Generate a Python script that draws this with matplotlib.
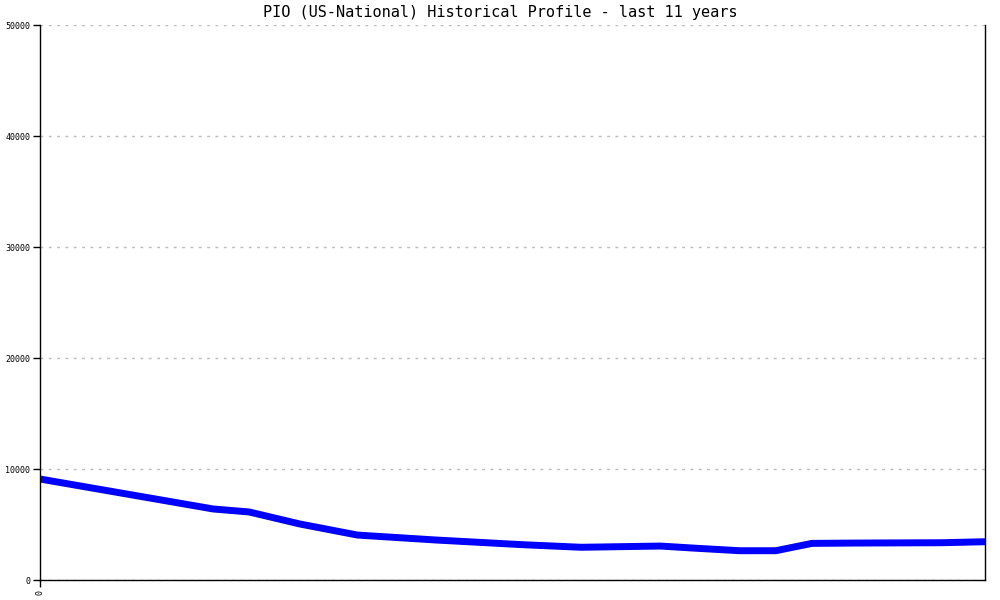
import numpy as np
import matplotlib.pyplot as plt

# month index over the last 11 years
months = [0, 24, 29, 36, 44, 55, 67, 75, 80, 86, 91, 97, 102, 107, 113, 125, 131]
values = [9100, 6400, 6130, 5050, 4050, 3600, 3180, 2950, 3000, 3060, 2860, 2640, 2640, 3300, 3330, 3360, 3450]

y_ticks = [0, 10000, 20000, 30000, 40000, 50000]
title = "PIO (US-National) Historical Profile - last 11 years"

fig = plt.figure(figsize=(10, 6), dpi=100)
ax = fig.add_axes([0.04, 0.0333, 0.945, 0.925])

ax.plot(months, values, color="#0000ff", linewidth=5, solid_joinstyle="round", solid_capstyle="butt")

ax.set_xlim(0, 131)
ax.set_ylim(0, 50000)
ax.set_yticks(y_ticks)
ax.set_yticklabels([str(t) for t in y_ticks], fontsize=6, family="DejaVu Sans Mono")
ax.set_xticks([0])
ax.set_xticklabels(["0"], fontsize=6, family="DejaVu Sans Mono", rotation=90)
ax.tick_params(direction="out", length=5, width=1, colors="black", pad=2)

ax.grid(axis="y", linestyle=(0, (2, 4)), color="#bbbbbb", linewidth=1)
ax.set_axisbelow(True)
ax.spines["top"].set_visible(False)
for s in ["left", "right", "bottom"]:
    ax.spines[s].set_linewidth(1)
    ax.spines[s].set_color("black")

fig.text(0.5, 1 - 13 / 600, title, ha="center", va="center", fontsize=11, family="DejaVu Sans Mono")

fig.savefig("out.png", dpi=100)
